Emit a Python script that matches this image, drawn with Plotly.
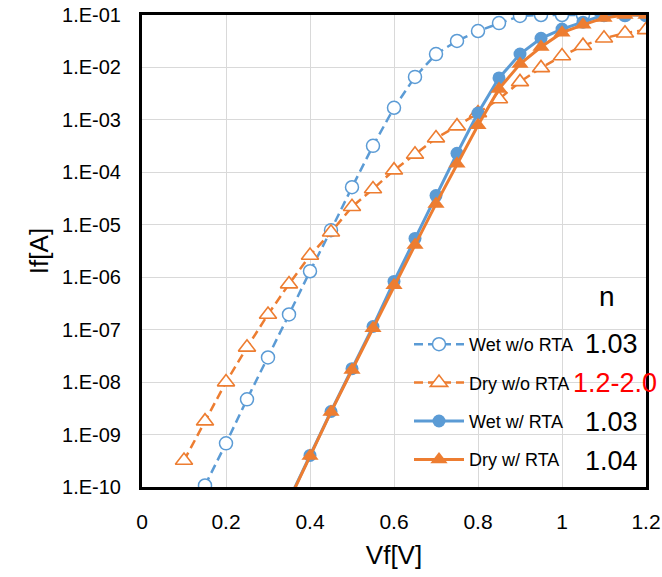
import plotly.graph_objects as go

# ---- data ----
vf_wet_wo = [0.15, 0.2, 0.25, 0.3, 0.35, 0.4, 0.45, 0.5, 0.55, 0.6, 0.65, 0.7, 0.75, 0.8,
             0.85, 0.9, 0.95, 1.0, 1.05, 1.1, 1.15, 1.2]
if_wet_wo = [1.07e-10, 6.8e-10, 4.7e-9, 2.95e-8, 1.95e-7, 1.3e-6, 7.9e-6, 5.2e-5, 3.2e-4,
             1.7e-3, 6.6e-3, 1.8e-2, 3.2e-2, 4.95e-2, 7.0e-2, 9.6e-2, 0.1, 0.1, 0.1, 0.1, 0.1, 0.1]

vf_dry_wo = [0.1, 0.15, 0.2, 0.25, 0.3, 0.35, 0.4, 0.45, 0.5, 0.55, 0.6, 0.65, 0.7, 0.75,
             0.8, 0.85, 0.9, 0.95, 1.0, 1.05, 1.1, 1.15, 1.2]
if_dry_wo = [3.2e-10, 1.8e-9, 1.0e-8, 4.6e-8, 1.95e-7, 7.4e-7, 2.6e-6, 7.2e-6, 2.2e-5, 4.8e-5,
             1.1e-4, 2.2e-4, 4.5e-4, 7.6e-4, 1.35e-3, 2.5e-3, 5.3e-3, 9.8e-3, 1.65e-2, 2.6e-2,
             3.6e-2, 4.5e-2, 5.2e-2]

vf_wet_w = [0.35, 0.4, 0.45, 0.5, 0.55, 0.6, 0.65, 0.7, 0.75, 0.8, 0.85, 0.9, 0.95, 1.0,
            1.05, 1.1, 1.15, 1.2]
if_wet_w = [5.7e-11, 4.0e-10, 2.75e-9, 1.8e-8, 1.15e-7, 8.3e-7, 5.5e-6, 3.6e-5, 2.3e-4,
            1.35e-3, 6.3e-3, 1.8e-2, 3.6e-2, 5.4e-2, 7.3e-2, 0.1, 0.1, 0.1]

vf_dry_w = [0.35, 0.4, 0.45, 0.5, 0.55, 0.6, 0.65, 0.7, 0.75, 0.8, 0.85, 0.9, 0.95, 1.0,
            1.05, 1.1, 1.15, 1.2]
if_dry_w = [5.5e-11, 3.9e-10, 2.7e-9, 1.7e-8, 1.07e-7, 7.0e-7, 4.1e-6, 2.5e-5, 1.45e-4,
            7.9e-4, 3.9e-3, 1.16e-2, 2.45e-2, 4.6e-2, 6.5e-2, 8.8e-2, 0.1, 0.1]

series_names = ["Wet w/o RTA", "Dry w/o RTA", "Wet w/ RTA", "Dry w/ RTA"]
n_values = ["1.03", "1.2-2.0", "1.03", "1.04"]
n_colors = ["black", "#FF0000", "black", "black"]

y_tickvals = [1e-10, 1e-9, 1e-8, 1e-7, 1e-6, 1e-5, 1e-4, 1e-3, 1e-2, 1e-1]
y_ticktext = ["1.E-10", "1.E-09", "1.E-08", "1.E-07", "1.E-06", "1.E-05", "1.E-04",
              "1.E-03", "1.E-02", "1.E-01"]
x_tickvals = [0, 0.2, 0.4, 0.6, 0.8, 1.0, 1.2]
x_ticktext = ["0", "0.2", "0.4", "0.6", "0.8", "1", "1.2"]

BLUE = "#5B9BD5"
ORANGE = "#ED7D31"
FONT = "Liberation Sans, Arial, sans-serif"

fig = go.Figure()
fig.add_trace(go.Scatter(
    x=vf_wet_wo, y=if_wet_wo, name=series_names[0], mode="lines+markers", legendgroup="a",
    line=dict(color=BLUE, width=2.5, dash="9px,5px"),
    marker=dict(symbol="circle", size=13, color="white", line=dict(color=BLUE, width=1.5))))
fig.add_trace(go.Scatter(
    x=vf_dry_wo, y=if_dry_wo, name=series_names[1], mode="lines+markers", legendgroup="b",
    line=dict(color=ORANGE, width=2.5, dash="9px,5px"),
    marker=dict(symbol="triangle-up", size=15, color="white", line=dict(color=ORANGE, width=1.6))))
fig.add_trace(go.Scatter(
    x=vf_wet_w, y=if_wet_w, name=series_names[2], mode="lines+markers", legendgroup="c",
    line=dict(color=BLUE, width=3),
    marker=dict(symbol="circle", size=13, color=BLUE)))
fig.add_trace(go.Scatter(
    x=vf_dry_w, y=if_dry_w, name=series_names[3], mode="lines+markers", legendgroup="d",
    line=dict(color=ORANGE, width=3),
    marker=dict(symbol="triangle-up", size=15, color=ORANGE)))

W, H = 662, 577
L, R, T, B = 142, 16, 15, 90

def px2paper(px, py):
    return (px - L) / (W - L - R), 1 - (py - T) / (H - T - B)

annos = []
nx, ny = px2paper(607, 296)
annos.append(dict(x=nx, y=ny, xref="paper", yref="paper", text="n", showarrow=False,
                  font=dict(size=28, color="black", family=FONT), xanchor="center", yanchor="middle"))
for i, (val, col) in enumerate(zip(n_values, n_colors)):
    cx = 611 if i != 1 else 615
    ax_, ay_ = px2paper(cx, [344, 383, 422, 461][i])
    annos.append(dict(x=ax_, y=ay_, xref="paper", yref="paper", text=val, showarrow=False,
                      font=dict(size=27, color=col, family=FONT), xanchor="center", yanchor="middle"))

lx, ly = px2paper(409, 326)
fig.update_layout(
    width=W, height=H,
    margin=dict(l=L, r=R, t=T, b=B, autoexpand=False),
    paper_bgcolor="white", plot_bgcolor="white",
    font=dict(family=FONT, color="black"),
    showlegend=True,
    legend=dict(x=lx, y=ly, xanchor="left", yanchor="top", bgcolor="rgba(0,0,0,0)",
                font=dict(size=18, family=FONT, color="black"), itemwidth=50,
                traceorder="grouped", tracegroupgap=12),
    annotations=annos,
)
fig.update_xaxes(range=[0, 1.2], tickvals=x_tickvals, ticktext=x_ticktext,
                 showgrid=True, gridcolor="#D9D9D9", gridwidth=1,
                 showline=True, linecolor="black", linewidth=3, mirror=True,
                 ticks="", ticklabelstandoff=14, zeroline=False, automargin=False,
                 tickfont=dict(size=21, family=FONT, color="black"),
                 title=dict(text="Vf[V]", font=dict(size=26, family=FONT, color="black"), standoff=14))
fig.update_yaxes(type="log", range=[-10, -1], tickvals=y_tickvals, ticktext=y_ticktext,
                 showgrid=True, gridcolor="#D9D9D9", gridwidth=1,
                 showline=True, linecolor="black", linewidth=3, mirror=True,
                 ticks="", ticklabelstandoff=14, zeroline=False, automargin=False,
                 tickfont=dict(size=20, family=FONT, color="black"),
                 title=dict(text="If[A]", font=dict(size=26, family=FONT, color="black"), standoff=6))

fig.write_html("out.html")
